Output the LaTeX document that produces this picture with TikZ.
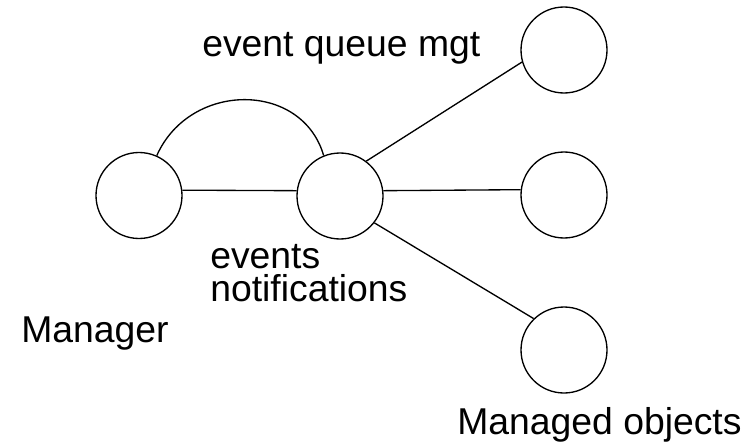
\documentclass[tikz,border=0pt]{standalone}
\usepackage{fontspec}
\setmainfont{Liberation Sans}
\usepackage{tikz}

\begin{document}
\begin{tikzpicture}[x=0.75pt,y=0.75pt,xscale=1,yscale=-1,
  obj/.style={draw, circle, line width=1pt, minimum size=64.5pt, inner sep=0pt},
  lbl/.style={anchor=base west, inner sep=0pt, font=\fontsize{28}{24}\selectfont},
  link/.style={line width=1pt}]
\useasboundingbox (0,0) rectangle (748,446);

%Circles
\node [obj] (mgr) at (139,195.5) {};
\node [obj] (evq) at (340,196) {};
\node [obj] (objA) at (564,50) {};
\node [obj] (objB) at (564,195) {};
\node [obj] (objC) at (564,350) {};

%Connectors
\draw [link] (mgr.7) -- (evq.173);
\draw [link] (mgr.66) .. controls (190,81) and (302,81) .. (evq.112);
\draw [link] (evq.53) -- (objA.196);
\draw [link] (evq.7) -- (objB.173);
\draw [link] (evq.-38) -- (objC.134);

% Text Node
\node [lbl] (qmgt) at (202,56) {event queue mgt};
% Text Node
\node [lbl] (evts) at (210,268) {events};
% Text Node
\node [lbl] (notif) at (210,301) {notifications};
% Text Node
\node [lbl] (mgrlbl) at (21,342) {Manager};
% Text Node
\node [lbl] (objlbl) at (457,434) {Managed objects};

\end{tikzpicture}
\end{document}
